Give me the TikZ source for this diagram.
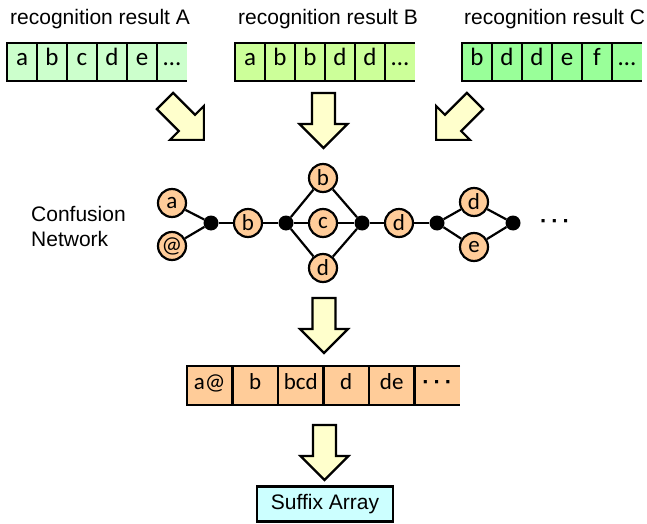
\documentclass[tikz,border=0pt]{standalone}
\usepackage{fontspec}
\setmainfont{Liberation Sans}
\newfontfamily\calibri{Carlito}
\definecolor{resA}{RGB}{204,255,204}
\definecolor{resB}{RGB}{204,255,153}
\definecolor{resC}{RGB}{153,255,153}
\definecolor{peach}{RGB}{255,204,153}
\definecolor{paleyellow}{RGB}{255,255,204}
\definecolor{palecyan}{RGB}{204,255,255}
\tikzset{
  blockarrow/.pic={
    \draw[line width=2.2pt, fill=paleyellow] (-11.5,0) -- (-11.5,-31) -- (-24,-31) -- (0,-55)
      -- (24,-31) -- (11.5,-31) -- (11.5,0) -- cycle;
  }
}
\begin{document}
\begin{tikzpicture}[x=1pt,y=1pt,
    cell/.style={rectangle,draw,line width=2.2pt,minimum width=30pt,minimum height=38pt,
      inner sep=0pt,outer sep=0pt,text height=0.8em,text depth=0.1em,
      font=\calibri\fontsize{25}{30}\selectfont},
    slot/.style={cell,fill=peach,minimum width=45.5pt,minimum height=39pt,
      font=\calibri\fontsize{23}{28}\selectfont},
    word/.style={circle,draw,line width=2.2pt,fill=peach,minimum size=28pt,inner sep=0pt,
      font=\calibri\fontsize{23}{28}\selectfont},
    junction/.style={circle,fill=black,minimum size=15pt,inner sep=0pt},
    caption/.style={font=\fontsize{21}{25}\selectfont,inner sep=0pt}]

      \useasboundingbox (0,0) rectangle (647,523);

      \begin{scope}[every node/.style={caption,anchor=base west}]
        \node (labA) at (10,498)  {recognition result A};
        \node (labB) at (238,498) {recognition result B};
        \node (labC) at (464,498) {recognition result C};
      \end{scope}

      \begin{scope}[every node/.style={cell,fill=resA}]
        \node (a1) at (22,461)  {a};
        \node (a2) at (52,461)  {b};
        \node (a3) at (82,461)  {c};
        \node (a4) at (112,461) {d};
        \node (a5) at (142,461) {e};
        \node[draw=none] (a6) at (172,461) {…};
      \end{scope}

      \begin{scope}[every node/.style={cell,fill=resB}]
        \node (b1) at (250,461) {a};
        \node (b2) at (280,461) {b};
        \node (b3) at (310,461) {b};
        \node (b4) at (340,461) {d};
        \node (b5) at (370,461) {d};
        \node[draw=none] (b6) at (400,461) {…};
      \end{scope}

      \begin{scope}[every node/.style={cell,fill=resC}]
        \node (c1) at (477,461) {b};
        \node (c2) at (507,461) {d};
        \node (c3) at (537,461) {d};
        \node (c4) at (567,461) {e};
        \node (c5) at (597,461) {f};
        \node[draw=none] (c6) at (627,461) {…};
      \end{scope}

      \begin{scope}[line width=2.2pt]
        \draw (a6.north east) -- (a6.north west) -- (a6.south west) -- (a6.south east);
        \draw (b6.north east) -- (b6.north west) -- (b6.south west) -- (b6.south east);
        \draw (c6.north east) -- (c6.north west) -- (c6.south west) -- (c6.south east);
      \end{scope}

      \pic[rotate=45]  at (165,422)   {blockarrow};
      \pic             at (323.5,430) {blockarrow};
      \pic[rotate=-45] at (475,422)   {blockarrow};

      \node[caption,anchor=west,align=left] (cn) at (31,297) {Confusion\\Network};

      \begin{scope}[every node/.style={word}]
        \node (wa)  at (172,320) {a};
        \node (wat) at (172,277) {@};
        \node (wb)  at (248,300) {b};
        \node (wb2) at (323,345) {b};
        \node (wc)  at (323,300) {c};
        \node (wd)  at (323,255) {d};
        \node (wd2) at (399,300) {d};
        \node (wd3) at (474,321) {d};
        \node (we)  at (474,276) {e};
      \end{scope}

      \begin{scope}[every node/.style={junction}]
        \node (j1) at (211,300) {};
        \node (j2) at (286,300) {};
        \node (j3) at (362,300) {};
        \node (j4) at (437,300) {};
        \node (j5) at (513,300) {};
      \end{scope}

      \node[font=\bfseries\fontsize{22}{25}\selectfont] (more) at (555,299) {·\hspace{4pt}·\hspace{4pt}·};

      \begin{scope}[line width=2.2pt,every edge/.style={draw}]
        \path (wa)  edge (j1);
        \path (wat) edge (j1);
        \path (j1)  edge (wb);
        \path (wb)  edge (j2);
        \path (j2)  edge (wb2);
        \path (j2)  edge (wc);
        \path (j2)  edge (wd);
        \path (wb2) edge (j3);
        \path (wc)  edge (j3);
        \path (wd)  edge (j3);
        \path (j3)  edge (wd2);
        \path (wd2) edge (j4);
        \path (j4)  edge (wd3);
        \path (j4)  edge (we);
        \path (wd3) edge (j5);
        \path (we)  edge (j5);
      \end{scope}

      \pic at (324,225) {blockarrow};

      \begin{scope}[every node/.style={slot}]
        \node (s1) at (209.75,137.5) {a@};
        \node (s2) at (255.25,137.5) {b};
        \node (s3) at (300.75,137.5) {bcd};
        \node (s4) at (346.25,137.5) {d};
        \node (s5) at (391.75,137.5) {de};
        \node[draw=none,font=\bfseries\fontsize{22}{25}\selectfont] (s6) at (437.25,137.5) {·\hspace{4pt}·\hspace{4pt}·};
      \end{scope}
      \draw[line width=2.2pt] (s6.north east) -- (s6.north west) -- (s6.south west) -- (s6.south east);

      \pic at (324.5,98) {blockarrow};

      \node[caption,draw,line width=2.2pt,fill=palecyan,minimum width=136pt,minimum height=35pt] (suffix) at (325,19) {Suffix Array};

    \end{tikzpicture}
\end{document}
